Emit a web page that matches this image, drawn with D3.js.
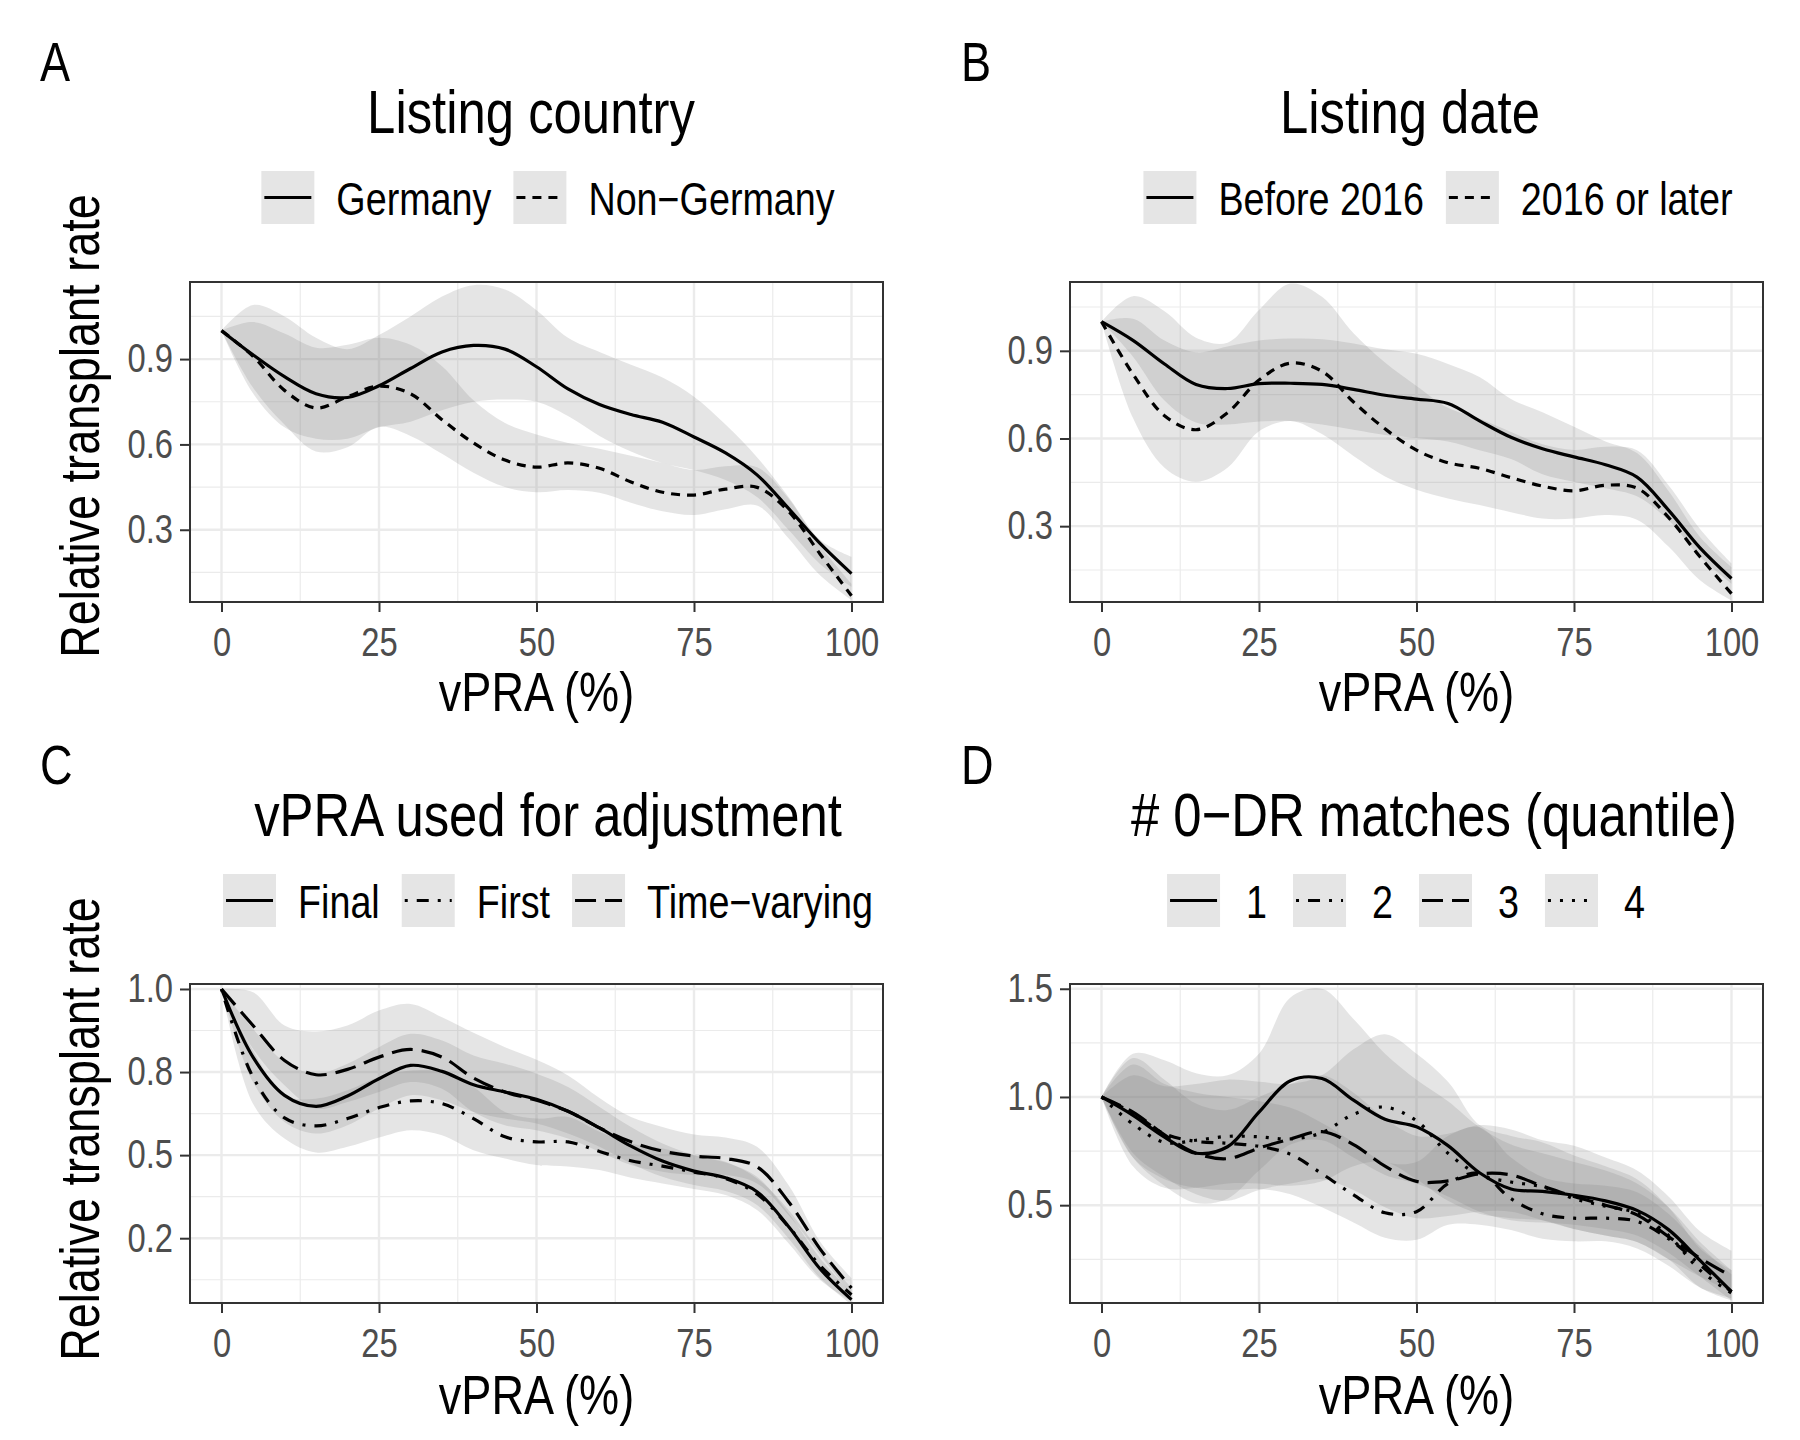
<!DOCTYPE html>
<html>
<head>
<meta charset="utf-8">
<script src="https://cdn.jsdelivr.net/npm/d3@7"></script>
<style>
  body { margin: 0; background: #fff; }
  svg text { font-family: "Liberation Sans", Arial, sans-serif; }
</style>
</head>
<body>
<svg id="chart" width="1800" height="1440"></svg>
<script>
// vPRA grid (%) the curves were read at
const vpra = [0, 5, 10, 15, 20, 25, 30, 35, 40, 45, 50, 55, 60, 65, 70, 75, 80, 85, 90, 95, 100];

// A - listing country
const germanyFit = [1.0, 0.915, 0.838, 0.778, 0.765, 0.806, 0.867, 0.925, 0.948, 0.935, 0.873, 0.795, 0.74, 0.705, 0.678, 0.626, 0.57, 0.493, 0.375, 0.252, 0.146];
const germanyHi = [1.0, 1.09, 1.05, 0.975, 0.935, 0.985, 1.05, 1.12, 1.16, 1.145, 1.072, 0.975, 0.925, 0.88, 0.835, 0.768, 0.67, 0.555, 0.415, 0.265, 0.205];
const germanyLo = [1.0, 0.78, 0.66, 0.62, 0.62, 0.66, 0.68, 0.72, 0.75, 0.758, 0.75, 0.70, 0.63, 0.575, 0.535, 0.51, 0.475, 0.415, 0.3, 0.18, 0.10];
const nonGermanyFit = [1.0, 0.91, 0.79, 0.728, 0.768, 0.805, 0.778, 0.687, 0.605, 0.545, 0.52, 0.535, 0.516, 0.468, 0.432, 0.422, 0.443, 0.449, 0.365, 0.215, 0.068];
const nonGermanyHi = [1.0, 1.03, 0.99, 0.94, 0.95, 0.975, 0.95, 0.875, 0.755, 0.675, 0.635, 0.605, 0.585, 0.56, 0.535, 0.51, 0.523, 0.52, 0.41, 0.245, 0.11];
const nonGermanyLo = [1.0, 0.8, 0.67, 0.575, 0.59, 0.662, 0.63, 0.567, 0.5, 0.45, 0.432, 0.44, 0.43, 0.395, 0.365, 0.352, 0.372, 0.385, 0.27, 0.14, 0.053];

// B - listing date
const before2016Fit = [1.0, 0.936, 0.855, 0.785, 0.771, 0.788, 0.789, 0.785, 0.768, 0.748, 0.735, 0.72, 0.66, 0.604, 0.565, 0.537, 0.51, 0.468, 0.355, 0.226, 0.121];
const before2016Hi = [1.0, 1.01, 0.935, 0.895, 0.915, 0.935, 0.942, 0.94, 0.925, 0.905, 0.89, 0.855, 0.81, 0.735, 0.69, 0.64, 0.59, 0.55, 0.42, 0.263, 0.16];
const before2016Lo = [1.0, 0.88, 0.73, 0.655, 0.648, 0.658, 0.66, 0.648, 0.63, 0.612, 0.602, 0.59, 0.56, 0.53, 0.478, 0.452, 0.43, 0.402, 0.32, 0.195, 0.103];
const later2016Fit = [1.0, 0.82, 0.678, 0.63, 0.688, 0.8, 0.858, 0.83, 0.725, 0.633, 0.56, 0.517, 0.498, 0.466, 0.437, 0.421, 0.44, 0.43, 0.33, 0.195, 0.069];
const later2016Hi = [1.0, 1.087, 1.035, 0.945, 0.928, 1.04, 1.13, 1.085, 0.96, 0.86, 0.78, 0.705, 0.668, 0.622, 0.58, 0.561, 0.572, 0.56, 0.44, 0.29, 0.172];
const later2016Lo = [1.0, 0.67, 0.5, 0.452, 0.5, 0.625, 0.66, 0.615, 0.54, 0.47, 0.425, 0.395, 0.372, 0.348, 0.326, 0.326, 0.338, 0.322, 0.23, 0.115, 0.046];

// C - vPRA used for adjustment
const finalFit = [1.0, 0.795, 0.68, 0.647, 0.678, 0.73, 0.77, 0.752, 0.712, 0.69, 0.668, 0.632, 0.582, 0.527, 0.482, 0.452, 0.432, 0.39, 0.285, 0.158, 0.065];
const finalHi = [1.0, 0.88, 0.78, 0.745, 0.775, 0.825, 0.865, 0.845, 0.8, 0.775, 0.745, 0.705, 0.645, 0.585, 0.535, 0.5, 0.478, 0.435, 0.325, 0.19, 0.085];
const finalLo = [1.0, 0.72, 0.6, 0.565, 0.59, 0.64, 0.68, 0.665, 0.63, 0.61, 0.595, 0.565, 0.525, 0.475, 0.435, 0.41, 0.392, 0.35, 0.25, 0.13, 0.05];
const firstFit = [1.0, 0.735, 0.612, 0.588, 0.61, 0.643, 0.663, 0.655, 0.61, 0.555, 0.54, 0.54, 0.511, 0.483, 0.467, 0.449, 0.43, 0.383, 0.285, 0.168, 0.08];
const firstHi = [1.0, 0.815, 0.68, 0.67, 0.695, 0.735, 0.755, 0.75, 0.705, 0.63, 0.61, 0.615, 0.57, 0.535, 0.52, 0.5, 0.48, 0.43, 0.335, 0.21, 0.1];
const firstLo = [1.0, 0.655, 0.55, 0.508, 0.525, 0.553, 0.575, 0.56, 0.515, 0.49, 0.47, 0.466, 0.455, 0.432, 0.415, 0.398, 0.38, 0.335, 0.235, 0.125, 0.06];
const timeVaryingFit = [1.0, 0.89, 0.785, 0.742, 0.758, 0.795, 0.818, 0.795, 0.732, 0.69, 0.665, 0.632, 0.582, 0.54, 0.512, 0.497, 0.49, 0.465, 0.36, 0.218, 0.1];
const timeVaryingHi = [1.0, 0.99, 0.89, 0.872, 0.89, 0.935, 0.955, 0.915, 0.868, 0.825, 0.787, 0.74, 0.672, 0.615, 0.585, 0.562, 0.553, 0.525, 0.41, 0.24, 0.13];
const timeVaryingLo = [1.0, 0.82, 0.71, 0.64, 0.66, 0.69, 0.72, 0.7, 0.63, 0.59, 0.575, 0.55, 0.51, 0.47, 0.45, 0.44, 0.44, 0.415, 0.32, 0.2, 0.08];

// D - # 0-DR matches (quantile)
const q1Fit = [1.0, 0.915, 0.815, 0.74, 0.77, 0.93, 1.075, 1.085, 0.985, 0.897, 0.862, 0.775, 0.65, 0.575, 0.564, 0.546, 0.52, 0.476, 0.387, 0.245, 0.10];
const q1Hi = [1.0, 1.2, 1.17, 1.11, 1.1, 1.2, 1.46, 1.5, 1.36, 1.2, 1.08, 0.98, 0.86, 0.78, 0.74, 0.7, 0.66, 0.6, 0.49, 0.33, 0.2];
const q1Lo = [1.0, 0.72, 0.59, 0.51, 0.53, 0.66, 0.78, 0.8, 0.72, 0.64, 0.6, 0.54, 0.47, 0.43, 0.42, 0.41, 0.39, 0.36, 0.28, 0.17, 0.06];
const q2Fit = [1.0, 0.925, 0.83, 0.795, 0.786, 0.772, 0.735, 0.645, 0.548, 0.465, 0.47, 0.6, 0.648, 0.53, 0.46, 0.44, 0.44, 0.425, 0.345, 0.225, 0.10];
const q2Hi = [1.0, 1.15, 1.06, 1.02, 1.0, 0.98, 0.95, 0.88, 0.79, 0.7, 0.7, 0.82, 0.86, 0.72, 0.63, 0.6, 0.59, 0.56, 0.46, 0.31, 0.18];
const q2Lo = [1.0, 0.72, 0.62, 0.58, 0.57, 0.575, 0.55, 0.49, 0.42, 0.35, 0.34, 0.41, 0.41, 0.385, 0.345, 0.333, 0.333, 0.3, 0.22, 0.12, 0.07];
const q3Fit = [1.0, 0.93, 0.825, 0.74, 0.715, 0.764, 0.806, 0.84, 0.78, 0.68, 0.61, 0.612, 0.645, 0.64, 0.588, 0.54, 0.5, 0.455, 0.355, 0.255, 0.171];
const q3Hi = [1.0, 1.18, 1.08, 0.97, 0.94, 1.0, 1.06, 1.1, 1.02, 0.9, 0.82, 0.83, 0.87, 0.85, 0.8, 0.775, 0.72, 0.66, 0.54, 0.38, 0.29];
const q3Lo = [1.0, 0.74, 0.63, 0.55, 0.52, 0.57, 0.6, 0.62, 0.57, 0.49, 0.44, 0.45, 0.47, 0.47, 0.43, 0.39, 0.36, 0.33, 0.25, 0.17, 0.1];
const q4Fit = [1.0, 0.875, 0.79, 0.8, 0.818, 0.816, 0.806, 0.835, 0.92, 0.953, 0.89, 0.74, 0.64, 0.607, 0.585, 0.53, 0.495, 0.462, 0.36, 0.2, 0.094];
const q4Hi = [1.0, 1.1, 1.05, 1.06, 1.08, 1.07, 1.06, 1.1, 1.22, 1.29, 1.2, 1.07, 0.87, 0.82, 0.79, 0.73, 0.68, 0.62, 0.49, 0.3, 0.2];
const q4Lo = [1.0, 0.68, 0.58, 0.58, 0.6, 0.6, 0.59, 0.61, 0.68, 0.7, 0.62, 0.52, 0.46, 0.44, 0.43, 0.39, 0.36, 0.33, 0.25, 0.12, 0.06];

// labels
const panelLetters = ["A", "B", "C", "D"];
const panelTitles = ["Listing country", "Listing date", "vPRA used for adjustment", "# 0\u2212DR matches (quantile)"];
const countryLabels = ["Germany", "Non\u2212Germany"];
const dateLabels = ["Before 2016", "2016 or later"];
const adjustLabels = ["Final", "First", "Time\u2212varying"];
const quantileLabels = ["1", "2", "3", "4"];
const xTicks = [0, 25, 50, 75, 100];
const xMinor = [12.5, 37.5, 62.5, 87.5];
const yTicksAB = [0.3, 0.6, 0.9];
const yMinorAB = [0.15, 0.45, 0.75, 1.05];
const yTicksC = [0.25, 0.5, 0.75, 1.0];
const yTickLabelsC = ["0.2", "0.5", "0.8", "1.0"];
const yMinorC = [0.125, 0.375, 0.625, 0.875];
const yTicksD = [0.5, 1.0, 1.5];
const yMinorD = [0.25, 0.75, 1.25];
const xTitle = "vPRA (%)";
const yTitle = "Relative transplant rate";

// line types (ggplot solid / dashed / dotdash / longdash / dotted)
const LT = { solid: null, dashed: "9,7", dotdash: "3,9,12,9", longdash: "21,9", dotted: "3,9" };

const mk = (label, fit, lo, hi, lt) => ({ label, lt, pts: vpra.map((v, i) => ({ x: v, fit: fit[i], lo: lo[i], hi: hi[i] })) });

const panels = [
  { letter: panelLetters[0], title: panelTitles[0], letterX: 40, titleX: 531, legendX: 548, gap: 22, dy: 0,
    left: 190, right: 883, top: 282, bottom: 602, yDomain: [0.046, 1.171],
    yTicks: yTicksAB, yLabels: null, yMinor: yMinorAB, yTitle: true,
    series: [mk(countryLabels[0], germanyFit, germanyLo, germanyHi, LT.solid),
             mk(countryLabels[1], nonGermanyFit, nonGermanyLo, nonGermanyHi, LT.dashed)] },
  { letter: panelLetters[1], title: panelTitles[1], letterX: 961, titleX: 1410, legendX: 1438, gap: 22, dy: 0,
    left: 1070, right: 1763, top: 282, bottom: 602, yDomain: [0.0405, 1.1355],
    yTicks: yTicksAB, yLabels: null, yMinor: yMinorAB, yTitle: false,
    series: [mk(dateLabels[0], before2016Fit, before2016Lo, before2016Hi, LT.solid),
             mk(dateLabels[1], later2016Fit, later2016Lo, later2016Hi, LT.dashed)] },
  { letter: panelLetters[2], title: panelTitles[2], letterX: 40, titleX: 548, legendX: 548, gap: 22, dy: 703,
    left: 190, right: 883, top: 984, bottom: 1303, yDomain: [0.055, 1.015],
    yTicks: yTicksC, yLabels: yTickLabelsC, yMinor: yMinorC, yTitle: true,
    series: [mk(adjustLabels[0], finalFit, finalLo, finalHi, LT.solid),
             mk(adjustLabels[1], firstFit, firstLo, firstHi, LT.dotdash),
             mk(adjustLabels[2], timeVaryingFit, timeVaryingLo, timeVaryingHi, LT.longdash)] },
  { letter: panelLetters[3], title: panelTitles[3], letterX: 961, titleX: 1434, legendX: 1406, gap: 26, dy: 703,
    left: 1070, right: 1763, top: 984, bottom: 1303, yDomain: [0.048, 1.522],
    yTicks: yTicksD, yLabels: null, yMinor: yMinorD, yTitle: false,
    series: [mk(quantileLabels[0], q1Fit, q1Lo, q1Hi, LT.solid),
             mk(quantileLabels[1], q2Fit, q2Lo, q2Hi, LT.dotdash),
             mk(quantileLabels[2], q3Fit, q3Lo, q3Hi, LT.longdash),
             mk(quantileLabels[3], q4Fit, q4Lo, q4Hi, LT.dotted)] }
];

const svg = d3.select("#chart");
svg.append("rect").attr("width", 1800).attr("height", 1440).attr("fill", "#fff");

const RIBBON = "#7f7f7f", RIBBON_OP = 0.2, GRID = "#ebebeb", FRAME = "#333333", TICKTXT = "#4d4d4d";
const SX = 0.82; // narrow face: squeeze Liberation Sans horizontally

// text with horizontal squeeze around its anchor point
function txt(parent, x, y, str, size, anchor, fill, rot) {
  return parent.append("text")
    .attr("transform", `translate(${x},${y})${rot ? ` rotate(${rot})` : ""} scale(${SX},1)`)
    .attr("text-anchor", anchor || "start")
    .style("font-size", size + "px").attr("fill", fill || "#000").text(str);
}

function drawPanel(p, k) {
  const g = svg.append("g");
  const x = d3.scaleLinear().domain([-5, 105]).range([p.left, p.right]);
  const y = d3.scaleLinear().domain(p.yDomain).range([p.bottom, p.top]);

  // letter, title
  txt(g, p.letterX, 81 + p.dy, p.letter, 55);
  txt(g, p.titleX, 133 + p.dy, p.title, 62, "middle");

  // legend
  const lg = g.append("g");
  const keyW = 53, keyH = 53, keyTop = 171 + p.dy, gap = p.gap;
  let cx = 0;
  p.series.forEach(s => {
    lg.append("rect").attr("x", cx).attr("y", keyTop).attr("width", keyW).attr("height", keyH)
      .attr("fill", RIBBON).attr("fill-opacity", RIBBON_OP);
    lg.append("line").attr("x1", cx + 3).attr("x2", cx + keyW - 3)
      .attr("y1", keyTop + keyH / 2).attr("y2", keyTop + keyH / 2)
      .attr("stroke", "#000").attr("stroke-width", 3)
      .attr("stroke-dasharray", s.lt);
    cx += keyW + gap;
    const t = txt(lg, cx, 215 + p.dy, s.label, 46);
    cx += t.node().getComputedTextLength() * SX + gap;
  });
  const lgW = cx - gap;
  lg.attr("transform", `translate(${p.legendX - lgW / 2},0)`);

  // grid
  const grid = g.append("g");
  grid.selectAll(".vminor").data(xMinor).join("line")
    .attr("x1", d => x(d)).attr("x2", d => x(d)).attr("y1", p.top).attr("y2", p.bottom)
    .attr("stroke", GRID).attr("stroke-width", 1.2);
  grid.selectAll(".hminor").data(p.yMinor).join("line")
    .attr("y1", d => y(d)).attr("y2", d => y(d)).attr("x1", p.left).attr("x2", p.right)
    .attr("stroke", GRID).attr("stroke-width", 1.2);
  grid.selectAll(".vmajor").data(xTicks).join("line")
    .attr("x1", d => x(d)).attr("x2", d => x(d)).attr("y1", p.top).attr("y2", p.bottom)
    .attr("stroke", GRID).attr("stroke-width", 2.4);
  grid.selectAll(".hmajor").data(p.yTicks).join("line")
    .attr("y1", d => y(d)).attr("y2", d => y(d)).attr("x1", p.left).attr("x2", p.right)
    .attr("stroke", GRID).attr("stroke-width", 2.4);

  // clip
  const cid = "clip" + k;
  g.append("clipPath").attr("id", cid).append("rect")
    .attr("x", p.left).attr("y", p.top).attr("width", p.right - p.left).attr("height", p.bottom - p.top);
  const plot = g.append("g").attr("clip-path", `url(#${cid})`);

  const curve = d3.curveCatmullRom.alpha(0.5);
  const area = d3.area().x(d => x(d.x)).y0(d => y(d.lo)).y1(d => y(d.hi)).curve(curve);
  const line = d3.line().x(d => x(d.x)).y(d => y(d.fit)).curve(curve);

  plot.selectAll(".ribbon").data(p.series).join("path")
    .attr("d", s => area(s.pts)).attr("fill", RIBBON).attr("fill-opacity", RIBBON_OP);
  plot.selectAll(".fit").data(p.series).join("path")
    .attr("d", s => line(s.pts)).attr("fill", "none").attr("stroke", "#000")
    .attr("stroke-width", 3.2).attr("stroke-dasharray", s => s.lt);

  // frame
  g.append("rect").attr("x", p.left).attr("y", p.top)
    .attr("width", p.right - p.left).attr("height", p.bottom - p.top)
    .attr("fill", "none").attr("stroke", FRAME).attr("stroke-width", 2);

  // axes
  const ax = g.append("g").attr("transform", `translate(0,${p.bottom})`)
    .call(d3.axisBottom(x).tickValues(xTicks).tickSize(10).tickPadding(16).tickFormat(d3.format("d")));
  const ay = g.append("g").attr("transform", `translate(${p.left},0)`)
    .call(d3.axisLeft(y).tickValues(p.yTicks).tickSize(10).tickPadding(7)
      .tickFormat((d, i) => p.yLabels ? p.yLabels[i] : d3.format(".1f")(d)));
  [ax, ay].forEach(a => {
    a.select(".domain").remove();
    a.selectAll(".tick line").attr("stroke", FRAME).attr("stroke-width", 2);
    a.selectAll(".tick text").each(function () {
      const t = d3.select(this);
      const x0 = +t.attr("x") || 0;
      t.attr("x", 0).attr("transform", `translate(${x0},0) scale(${SX},1)`);
    }).attr("fill", TICKTXT).style("font-size", "40px").style("font-family", null);
  });

  txt(g, (p.left + p.right) / 2, 711 + p.dy, xTitle, 55, "middle");
  if (p.yTitle) txt(g, 99, 426 + p.dy, yTitle, 55, "middle", "#000", -90);
}

panels.forEach(drawPanel);
</script>
</body>
</html>
